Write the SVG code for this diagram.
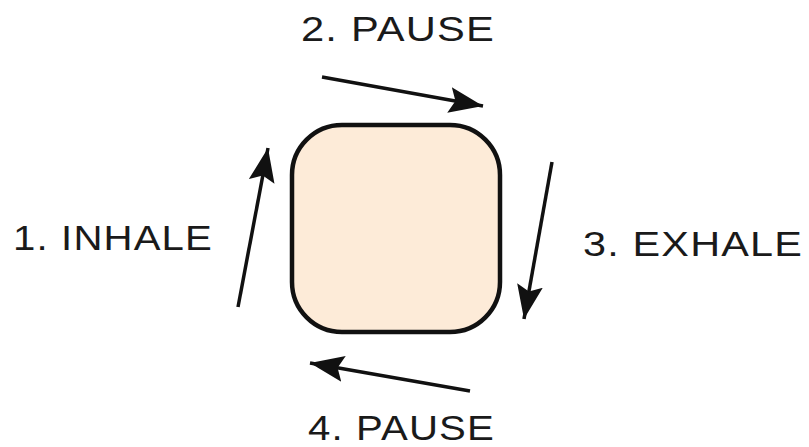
<svg xmlns="http://www.w3.org/2000/svg" width="809" height="447" viewBox="0 0 809 447">
<style>
.lbl{font-family:"Liberation Sans",Arial,sans-serif;font-size:35px;fill:#1a1a1a;letter-spacing:1px}
.arr{stroke:#111;stroke-width:3.5;fill:none;marker-end:url(#ah)}
</style>
<defs>
<marker id="ah" markerUnits="userSpaceOnUse" markerWidth="36" markerHeight="28" refX="34" refY="13" orient="auto">
<path d="M0,0 L34,13 L0,26 L6,13 Z" fill="#111"/>
</marker>
</defs>
<rect width="809" height="447" fill="#fff"/>
<g id="box">
<rect x="292" y="125" width="208" height="207" rx="50" ry="50" fill="#fdebd8" stroke="#111" stroke-width="4.5"/>
</g>
<g id="connectors">
<line class="arr" x1="322" y1="77" x2="483" y2="106"/>
<line class="arr" x1="552" y1="162" x2="524" y2="319"/>
<line class="arr" x1="470" y1="391" x2="310" y2="363"/>
<line class="arr" x1="238" y1="307" x2="268" y2="148"/>
</g>
<g id="label-pause-top"><text class="lbl" x="301" y="41" textLength="194" lengthAdjust="spacingAndGlyphs">2. PAUSE</text></g>
<g id="label-inhale"><text class="lbl" x="13" y="250" textLength="200" lengthAdjust="spacingAndGlyphs">1. INHALE</text></g>
<g id="label-exhale"><text class="lbl" x="583" y="256" textLength="220" lengthAdjust="spacingAndGlyphs">3. EXHALE</text></g>
<g id="label-pause-bottom"><text class="lbl" x="308" y="440" textLength="187" lengthAdjust="spacingAndGlyphs">4. PAUSE</text></g>
</svg>
